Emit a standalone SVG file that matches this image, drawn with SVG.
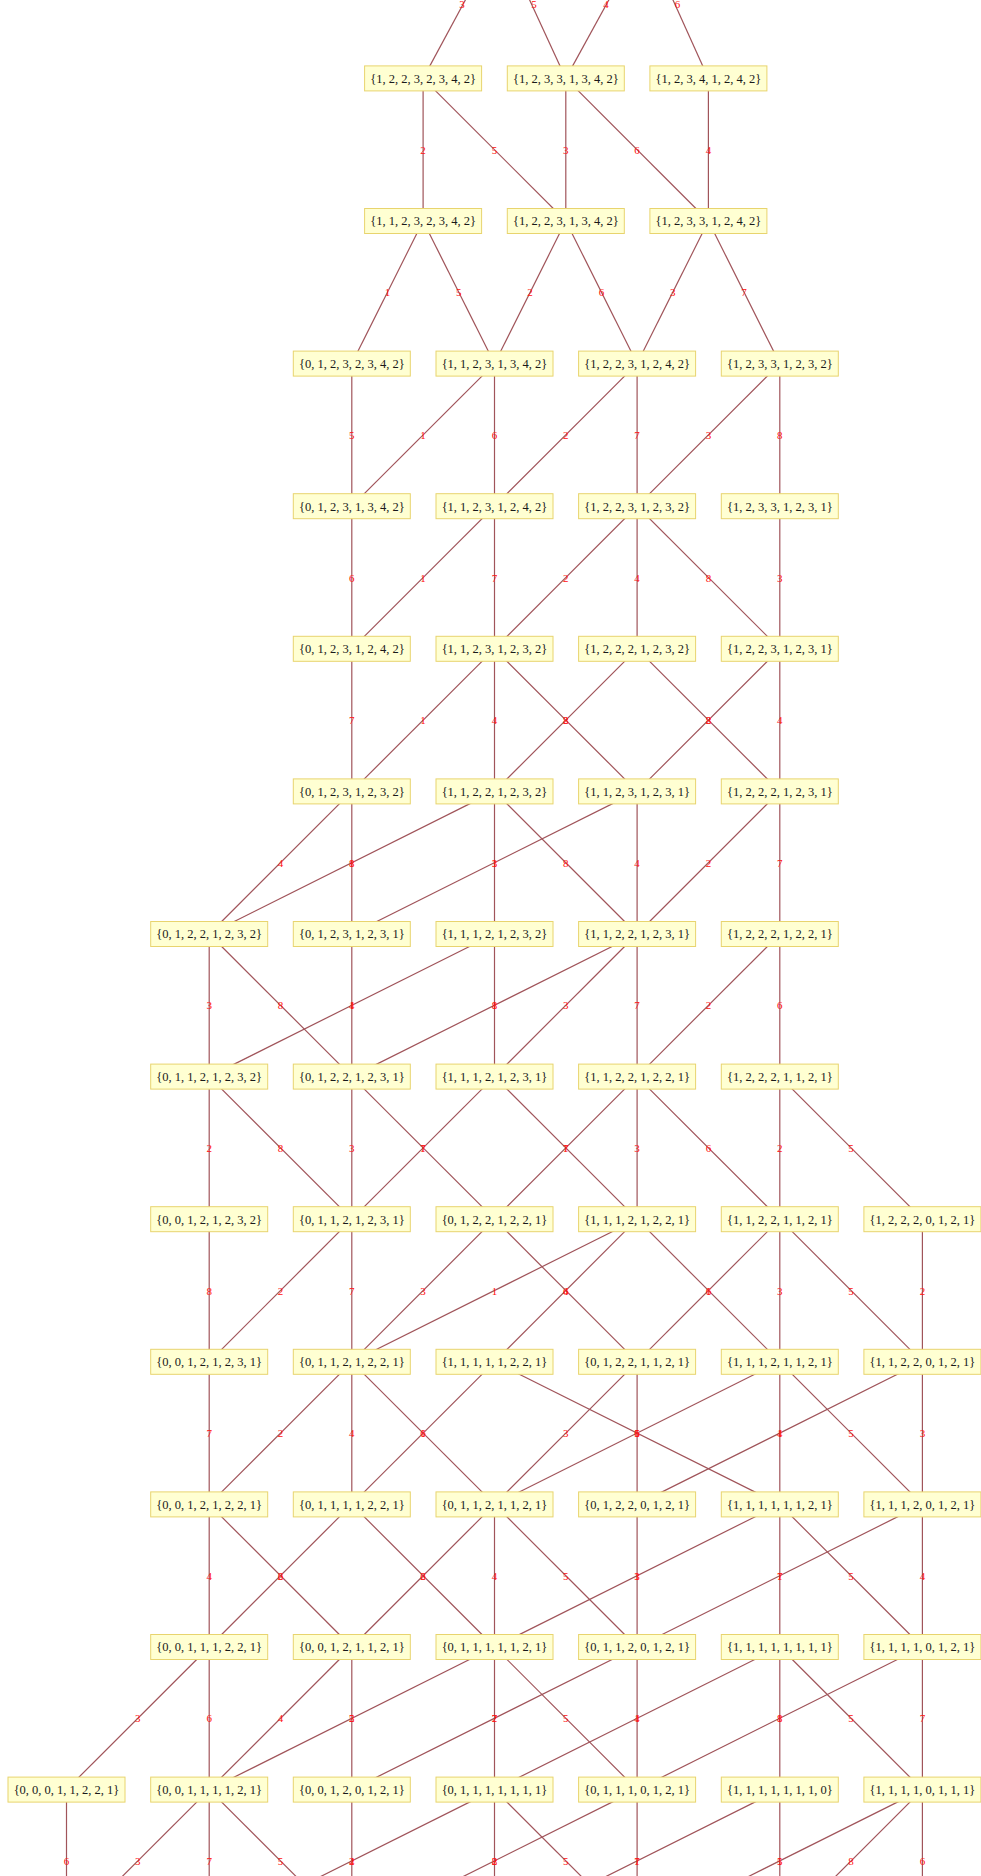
<svg xmlns="http://www.w3.org/2000/svg" width="981" height="1876" viewBox="0 0 981 1876">
<style>
.e line{stroke:#a0545a;stroke-width:1.2;fill:none}
.l text{fill:#ff1010;font-family:"Liberation Serif",serif;font-size:11px;text-anchor:middle}
.n rect{fill:#ffffd2;stroke:#e8d46e;stroke-width:1}
.n text{fill:#1a1a1a;font-family:"Liberation Serif",serif;font-size:12.5px;text-anchor:middle}
</style>
<rect width="981" height="1876" fill="#ffffff"/>
<g id="connectors">
<g class="e">
<line x1="500" y1="-64.2" x2="423.1" y2="78.4"/>
<line x1="500" y1="-64.2" x2="565.8" y2="78.4"/>
<line x1="644" y1="-64.2" x2="565.8" y2="78.4"/>
<line x1="644" y1="-64.2" x2="708.4" y2="78.4"/>

<line x1="423.1" y1="78.4" x2="423.1" y2="221"/>
<line x1="423.1" y1="78.4" x2="565.8" y2="221"/>
<line x1="565.8" y1="78.4" x2="565.8" y2="221"/>
<line x1="565.8" y1="78.4" x2="708.4" y2="221"/>
<line x1="708.4" y1="78.4" x2="708.4" y2="221"/>

<line x1="423.1" y1="221" x2="351.8" y2="363.6"/>
<line x1="423.1" y1="221" x2="494.5" y2="363.6"/>
<line x1="565.8" y1="221" x2="494.5" y2="363.6"/>
<line x1="565.8" y1="221" x2="637.1" y2="363.6"/>
<line x1="708.4" y1="221" x2="637.1" y2="363.6"/>
<line x1="708.4" y1="221" x2="779.8" y2="363.6"/>

<line x1="351.8" y1="363.6" x2="351.8" y2="506.2"/>
<line x1="494.5" y1="363.6" x2="351.8" y2="506.2"/>
<line x1="494.5" y1="363.6" x2="494.5" y2="506.2"/>
<line x1="637.1" y1="363.6" x2="494.5" y2="506.2"/>
<line x1="637.1" y1="363.6" x2="637.1" y2="506.2"/>
<line x1="779.8" y1="363.6" x2="637.1" y2="506.2"/>
<line x1="779.8" y1="363.6" x2="779.8" y2="506.2"/>

<line x1="351.8" y1="506.2" x2="351.8" y2="648.8"/>
<line x1="494.5" y1="506.2" x2="351.8" y2="648.8"/>
<line x1="494.5" y1="506.2" x2="494.5" y2="648.8"/>
<line x1="637.1" y1="506.2" x2="494.5" y2="648.8"/>
<line x1="637.1" y1="506.2" x2="637.1" y2="648.8"/>
<line x1="637.1" y1="506.2" x2="779.8" y2="648.8"/>
<line x1="779.8" y1="506.2" x2="779.8" y2="648.8"/>

<line x1="351.8" y1="648.8" x2="351.8" y2="791.4"/>
<line x1="494.5" y1="648.8" x2="351.8" y2="791.4"/>
<line x1="494.5" y1="648.8" x2="494.5" y2="791.4"/>
<line x1="494.5" y1="648.8" x2="637.1" y2="791.4"/>
<line x1="637.1" y1="648.8" x2="494.5" y2="791.4"/>
<line x1="637.1" y1="648.8" x2="779.8" y2="791.4"/>
<line x1="779.8" y1="648.8" x2="637.1" y2="791.4"/>
<line x1="779.8" y1="648.8" x2="779.8" y2="791.4"/>

<line x1="351.8" y1="791.4" x2="209.2" y2="934"/>
<line x1="351.8" y1="791.4" x2="351.8" y2="934"/>
<line x1="494.5" y1="791.4" x2="209.2" y2="934"/>
<line x1="494.5" y1="791.4" x2="494.5" y2="934"/>
<line x1="494.5" y1="791.4" x2="637.1" y2="934"/>
<line x1="637.1" y1="791.4" x2="351.8" y2="934"/>
<line x1="637.1" y1="791.4" x2="637.1" y2="934"/>
<line x1="779.8" y1="791.4" x2="637.1" y2="934"/>
<line x1="779.8" y1="791.4" x2="779.8" y2="934"/>

<line x1="209.2" y1="934" x2="209.2" y2="1076.6"/>
<line x1="209.2" y1="934" x2="351.8" y2="1076.6"/>
<line x1="351.8" y1="934" x2="351.8" y2="1076.6"/>
<line x1="494.5" y1="934" x2="209.2" y2="1076.6"/>
<line x1="494.5" y1="934" x2="494.5" y2="1076.6"/>
<line x1="637.1" y1="934" x2="351.8" y2="1076.6"/>
<line x1="637.1" y1="934" x2="494.5" y2="1076.6"/>
<line x1="637.1" y1="934" x2="637.1" y2="1076.6"/>
<line x1="779.8" y1="934" x2="637.1" y2="1076.6"/>
<line x1="779.8" y1="934" x2="779.8" y2="1076.6"/>

<line x1="209.2" y1="1076.6" x2="209.2" y2="1219.2"/>
<line x1="209.2" y1="1076.6" x2="351.8" y2="1219.2"/>
<line x1="351.8" y1="1076.6" x2="351.8" y2="1219.2"/>
<line x1="351.8" y1="1076.6" x2="494.5" y2="1219.2"/>
<line x1="494.5" y1="1076.6" x2="351.8" y2="1219.2"/>
<line x1="494.5" y1="1076.6" x2="637.1" y2="1219.2"/>
<line x1="637.1" y1="1076.6" x2="494.5" y2="1219.2"/>
<line x1="637.1" y1="1076.6" x2="637.1" y2="1219.2"/>
<line x1="637.1" y1="1076.6" x2="779.8" y2="1219.2"/>
<line x1="779.8" y1="1076.6" x2="779.8" y2="1219.2"/>
<line x1="779.8" y1="1076.6" x2="922.4" y2="1219.2"/>

<line x1="209.2" y1="1219.2" x2="209.2" y2="1361.8"/>
<line x1="351.8" y1="1219.2" x2="209.2" y2="1361.8"/>
<line x1="351.8" y1="1219.2" x2="351.8" y2="1361.8"/>
<line x1="494.5" y1="1219.2" x2="351.8" y2="1361.8"/>
<line x1="494.5" y1="1219.2" x2="637.1" y2="1361.8"/>
<line x1="637.1" y1="1219.2" x2="351.8" y2="1361.8"/>
<line x1="637.1" y1="1219.2" x2="494.5" y2="1361.8"/>
<line x1="637.1" y1="1219.2" x2="779.8" y2="1361.8"/>
<line x1="779.8" y1="1219.2" x2="637.1" y2="1361.8"/>
<line x1="779.8" y1="1219.2" x2="779.8" y2="1361.8"/>
<line x1="779.8" y1="1219.2" x2="922.4" y2="1361.8"/>
<line x1="922.4" y1="1219.2" x2="922.4" y2="1361.8"/>

<line x1="209.2" y1="1361.8" x2="209.2" y2="1504.4"/>
<line x1="351.8" y1="1361.8" x2="209.2" y2="1504.4"/>
<line x1="351.8" y1="1361.8" x2="351.8" y2="1504.4"/>
<line x1="351.8" y1="1361.8" x2="494.5" y2="1504.4"/>
<line x1="494.5" y1="1361.8" x2="351.8" y2="1504.4"/>
<line x1="494.5" y1="1361.8" x2="779.8" y2="1504.4"/>
<line x1="637.1" y1="1361.8" x2="494.5" y2="1504.4"/>
<line x1="637.1" y1="1361.8" x2="637.1" y2="1504.4"/>
<line x1="779.8" y1="1361.8" x2="494.5" y2="1504.4"/>
<line x1="779.8" y1="1361.8" x2="779.8" y2="1504.4"/>
<line x1="779.8" y1="1361.8" x2="922.4" y2="1504.4"/>
<line x1="922.4" y1="1361.8" x2="637.1" y2="1504.4"/>
<line x1="922.4" y1="1361.8" x2="922.4" y2="1504.4"/>

<line x1="209.2" y1="1504.4" x2="209.2" y2="1647"/>
<line x1="209.2" y1="1504.4" x2="351.8" y2="1647"/>
<line x1="351.8" y1="1504.4" x2="209.2" y2="1647"/>
<line x1="351.8" y1="1504.4" x2="494.5" y2="1647"/>
<line x1="494.5" y1="1504.4" x2="351.8" y2="1647"/>
<line x1="494.5" y1="1504.4" x2="494.5" y2="1647"/>
<line x1="494.5" y1="1504.4" x2="637.1" y2="1647"/>
<line x1="637.1" y1="1504.4" x2="637.1" y2="1647"/>
<line x1="779.8" y1="1504.4" x2="494.5" y2="1647"/>
<line x1="779.8" y1="1504.4" x2="779.8" y2="1647"/>
<line x1="779.8" y1="1504.4" x2="922.4" y2="1647"/>
<line x1="922.4" y1="1504.4" x2="637.1" y2="1647"/>
<line x1="922.4" y1="1504.4" x2="922.4" y2="1647"/>

<line x1="209.2" y1="1647" x2="66.5" y2="1789.6"/>
<line x1="209.2" y1="1647" x2="209.2" y2="1789.6"/>
<line x1="351.8" y1="1647" x2="209.2" y2="1789.6"/>
<line x1="351.8" y1="1647" x2="351.8" y2="1789.6"/>
<line x1="494.5" y1="1647" x2="209.2" y2="1789.6"/>
<line x1="494.5" y1="1647" x2="494.5" y2="1789.6"/>
<line x1="494.5" y1="1647" x2="637.1" y2="1789.6"/>
<line x1="637.1" y1="1647" x2="351.8" y2="1789.6"/>
<line x1="637.1" y1="1647" x2="637.1" y2="1789.6"/>
<line x1="779.8" y1="1647" x2="494.5" y2="1789.6"/>
<line x1="779.8" y1="1647" x2="779.8" y2="1789.6"/>
<line x1="779.8" y1="1647" x2="922.4" y2="1789.6"/>
<line x1="922.4" y1="1647" x2="637.1" y2="1789.6"/>
<line x1="922.4" y1="1647" x2="922.4" y2="1789.6"/>

<line x1="66.5" y1="1789.6" x2="66.5" y2="1932.2"/>
<line x1="209.2" y1="1789.6" x2="66.5" y2="1932.2"/>
<line x1="209.2" y1="1789.6" x2="209.2" y2="1932.2"/>
<line x1="209.2" y1="1789.6" x2="351.8" y2="1932.2"/>
<line x1="351.8" y1="1789.6" x2="351.8" y2="1932.2"/>
<line x1="494.5" y1="1789.6" x2="209.2" y2="1932.2"/>
<line x1="494.5" y1="1789.6" x2="494.5" y2="1932.2"/>
<line x1="494.5" y1="1789.6" x2="637.1" y2="1932.2"/>
<line x1="637.1" y1="1789.6" x2="351.8" y2="1932.2"/>
<line x1="637.1" y1="1789.6" x2="637.1" y2="1932.2"/>
<line x1="779.8" y1="1789.6" x2="494.5" y2="1932.2"/>
<line x1="779.8" y1="1789.6" x2="779.8" y2="1932.2"/>
<line x1="922.4" y1="1789.6" x2="637.1" y2="1932.2"/>
<line x1="922.4" y1="1789.6" x2="779.8" y2="1932.2"/>
<line x1="922.4" y1="1789.6" x2="922.4" y2="1932.2"/>
</g>
<g class="l">
<text x="462" y="8">3</text>
<text x="534" y="8">5</text>
<text x="606" y="8">4</text>
<text x="677.5" y="8">6</text>

<text x="423.1" y="153.8">2</text>
<text x="494.5" y="153.8">5</text>
<text x="565.8" y="153.8">3</text>
<text x="637.1" y="153.8">6</text>
<text x="708.4" y="153.8">4</text>

<text x="387.5" y="296.4">1</text>
<text x="458.8" y="296.4">5</text>
<text x="530.1" y="296.4">2</text>
<text x="601.5" y="296.4">6</text>
<text x="672.8" y="296.4">3</text>
<text x="744.1" y="296.4">7</text>

<text x="351.8" y="439">5</text>
<text x="423.1" y="439">1</text>
<text x="494.5" y="439">6</text>
<text x="565.8" y="439">2</text>
<text x="637.1" y="439">7</text>
<text x="708.4" y="439">3</text>
<text x="779.8" y="439">8</text>

<text x="351.8" y="581.6">6</text>
<text x="423.1" y="581.6">1</text>
<text x="494.5" y="581.6">7</text>
<text x="565.8" y="581.6">2</text>
<text x="637.1" y="581.6">4</text>
<text x="708.4" y="581.6">8</text>
<text x="779.8" y="581.6">3</text>

<text x="351.8" y="724.2">7</text>
<text x="423.1" y="724.2">1</text>
<text x="494.5" y="724.2">4</text>
<text x="565.8" y="724.2">8</text>
<text x="565.8" y="724.2">2</text>
<text x="708.4" y="724.2">8</text>
<text x="708.4" y="724.2">2</text>
<text x="779.8" y="724.2">4</text>

<text x="280.5" y="866.8">4</text>
<text x="351.8" y="866.8">8</text>
<text x="351.8" y="866.8">1</text>
<text x="494.5" y="866.8">3</text>
<text x="494.5" y="866.8">1</text>
<text x="565.8" y="866.8">8</text>
<text x="637.1" y="866.8">4</text>
<text x="708.4" y="866.8">2</text>
<text x="779.8" y="866.8">7</text>

<text x="209.2" y="1009.4">3</text>
<text x="280.5" y="1009.4">8</text>
<text x="351.8" y="1009.4">4</text>
<text x="351.8" y="1009.4">1</text>
<text x="494.5" y="1009.4">8</text>
<text x="494.5" y="1009.4">1</text>
<text x="565.8" y="1009.4">3</text>
<text x="637.1" y="1009.4">7</text>
<text x="708.4" y="1009.4">2</text>
<text x="779.8" y="1009.4">6</text>

<text x="209.2" y="1152">2</text>
<text x="280.5" y="1152">8</text>
<text x="351.8" y="1152">3</text>
<text x="423.1" y="1152">7</text>
<text x="423.1" y="1152">1</text>
<text x="565.8" y="1152">7</text>
<text x="565.8" y="1152">1</text>
<text x="637.1" y="1152">3</text>
<text x="708.4" y="1152">6</text>
<text x="779.8" y="1152">2</text>
<text x="851.1" y="1152">5</text>

<text x="209.2" y="1294.6">8</text>
<text x="280.5" y="1294.6">2</text>
<text x="351.8" y="1294.6">7</text>
<text x="423.1" y="1294.6">3</text>
<text x="494.5" y="1294.6">1</text>
<text x="565.8" y="1294.6">6</text>
<text x="565.8" y="1294.6">4</text>
<text x="708.4" y="1294.6">6</text>
<text x="708.4" y="1294.6">1</text>
<text x="779.8" y="1294.6">3</text>
<text x="851.1" y="1294.6">5</text>
<text x="922.4" y="1294.6">2</text>

<text x="209.2" y="1437.2">7</text>
<text x="280.5" y="1437.2">2</text>
<text x="351.8" y="1437.2">4</text>
<text x="423.1" y="1437.2">6</text>
<text x="423.1" y="1437.2">1</text>
<text x="565.8" y="1437.2">3</text>
<text x="637.1" y="1437.2">6</text>
<text x="637.1" y="1437.2">1</text>
<text x="637.1" y="1437.2">5</text>
<text x="779.8" y="1437.2">4</text>
<text x="779.8" y="1437.2">1</text>
<text x="851.1" y="1437.2">5</text>
<text x="922.4" y="1437.2">3</text>

<text x="209.2" y="1579.8">4</text>
<text x="280.5" y="1579.8">6</text>
<text x="280.5" y="1579.8">2</text>
<text x="423.1" y="1579.8">6</text>
<text x="423.1" y="1579.8">2</text>
<text x="494.5" y="1579.8">4</text>
<text x="565.8" y="1579.8">5</text>
<text x="637.1" y="1579.8">3</text>
<text x="637.1" y="1579.8">1</text>
<text x="779.8" y="1579.8">7</text>
<text x="779.8" y="1579.8">1</text>
<text x="851.1" y="1579.8">5</text>
<text x="922.4" y="1579.8">4</text>

<text x="137.8" y="1722.4">3</text>
<text x="209.2" y="1722.4">6</text>
<text x="280.5" y="1722.4">4</text>
<text x="351.8" y="1722.4">5</text>
<text x="351.8" y="1722.4">2</text>
<text x="494.5" y="1722.4">7</text>
<text x="494.5" y="1722.4">2</text>
<text x="565.8" y="1722.4">5</text>
<text x="637.1" y="1722.4">4</text>
<text x="637.1" y="1722.4">1</text>
<text x="779.8" y="1722.4">8</text>
<text x="779.8" y="1722.4">1</text>
<text x="851.1" y="1722.4">5</text>
<text x="922.4" y="1722.4">7</text>

<text x="66.5" y="1865">6</text>
<text x="137.8" y="1865">3</text>
<text x="209.2" y="1865">7</text>
<text x="280.5" y="1865">5</text>
<text x="351.8" y="1865">4</text>
<text x="351.8" y="1865">2</text>
<text x="494.5" y="1865">8</text>
<text x="494.5" y="1865">2</text>
<text x="565.8" y="1865">5</text>
<text x="637.1" y="1865">7</text>
<text x="637.1" y="1865">1</text>
<text x="779.8" y="1865">5</text>
<text x="779.8" y="1865">1</text>
<text x="851.1" y="1865">8</text>
<text x="922.4" y="1865">6</text>
</g>
</g>
<g id="nodes">
<g class="n" id="v12232342"><rect x="364.6" y="65.9" width="117" height="25"/><text x="423.1" y="82.7">{1, 2, 2, 3, 2, 3, 4, 2}</text></g>
<g class="n" id="v12331342"><rect x="507.3" y="65.9" width="117" height="25"/><text x="565.8" y="82.7">{1, 2, 3, 3, 1, 3, 4, 2}</text></g>
<g class="n" id="v12341242"><rect x="649.9" y="65.9" width="117" height="25"/><text x="708.4" y="82.7">{1, 2, 3, 4, 1, 2, 4, 2}</text></g>

<g class="n" id="v11232342"><rect x="364.6" y="208.5" width="117" height="25"/><text x="423.1" y="225.3">{1, 1, 2, 3, 2, 3, 4, 2}</text></g>
<g class="n" id="v12231342"><rect x="507.3" y="208.5" width="117" height="25"/><text x="565.8" y="225.3">{1, 2, 2, 3, 1, 3, 4, 2}</text></g>
<g class="n" id="v12331242"><rect x="649.9" y="208.5" width="117" height="25"/><text x="708.4" y="225.3">{1, 2, 3, 3, 1, 2, 4, 2}</text></g>

<g class="n" id="v01232342"><rect x="293.3" y="351.1" width="117" height="25"/><text x="351.8" y="367.9">{0, 1, 2, 3, 2, 3, 4, 2}</text></g>
<g class="n" id="v11231342"><rect x="436" y="351.1" width="117" height="25"/><text x="494.5" y="367.9">{1, 1, 2, 3, 1, 3, 4, 2}</text></g>
<g class="n" id="v12231242"><rect x="578.6" y="351.1" width="117" height="25"/><text x="637.1" y="367.9">{1, 2, 2, 3, 1, 2, 4, 2}</text></g>
<g class="n" id="v12331232"><rect x="721.3" y="351.1" width="117" height="25"/><text x="779.8" y="367.9">{1, 2, 3, 3, 1, 2, 3, 2}</text></g>

<g class="n" id="v01231342"><rect x="293.3" y="493.7" width="117" height="25"/><text x="351.8" y="510.5">{0, 1, 2, 3, 1, 3, 4, 2}</text></g>
<g class="n" id="v11231242"><rect x="436" y="493.7" width="117" height="25"/><text x="494.5" y="510.5">{1, 1, 2, 3, 1, 2, 4, 2}</text></g>
<g class="n" id="v12231232"><rect x="578.6" y="493.7" width="117" height="25"/><text x="637.1" y="510.5">{1, 2, 2, 3, 1, 2, 3, 2}</text></g>
<g class="n" id="v12331231"><rect x="721.3" y="493.7" width="117" height="25"/><text x="779.8" y="510.5">{1, 2, 3, 3, 1, 2, 3, 1}</text></g>

<g class="n" id="v01231242"><rect x="293.3" y="636.3" width="117" height="25"/><text x="351.8" y="653.1">{0, 1, 2, 3, 1, 2, 4, 2}</text></g>
<g class="n" id="v11231232"><rect x="436" y="636.3" width="117" height="25"/><text x="494.5" y="653.1">{1, 1, 2, 3, 1, 2, 3, 2}</text></g>
<g class="n" id="v12221232"><rect x="578.6" y="636.3" width="117" height="25"/><text x="637.1" y="653.1">{1, 2, 2, 2, 1, 2, 3, 2}</text></g>
<g class="n" id="v12231231"><rect x="721.3" y="636.3" width="117" height="25"/><text x="779.8" y="653.1">{1, 2, 2, 3, 1, 2, 3, 1}</text></g>

<g class="n" id="v01231232"><rect x="293.3" y="778.9" width="117" height="25"/><text x="351.8" y="795.7">{0, 1, 2, 3, 1, 2, 3, 2}</text></g>
<g class="n" id="v11221232"><rect x="436" y="778.9" width="117" height="25"/><text x="494.5" y="795.7">{1, 1, 2, 2, 1, 2, 3, 2}</text></g>
<g class="n" id="v11231231"><rect x="578.6" y="778.9" width="117" height="25"/><text x="637.1" y="795.7">{1, 1, 2, 3, 1, 2, 3, 1}</text></g>
<g class="n" id="v12221231"><rect x="721.3" y="778.9" width="117" height="25"/><text x="779.8" y="795.7">{1, 2, 2, 2, 1, 2, 3, 1}</text></g>

<g class="n" id="v01221232"><rect x="150.7" y="921.5" width="117" height="25"/><text x="209.2" y="938.3">{0, 1, 2, 2, 1, 2, 3, 2}</text></g>
<g class="n" id="v01231231"><rect x="293.3" y="921.5" width="117" height="25"/><text x="351.8" y="938.3">{0, 1, 2, 3, 1, 2, 3, 1}</text></g>
<g class="n" id="v11121232"><rect x="436" y="921.5" width="117" height="25"/><text x="494.5" y="938.3">{1, 1, 1, 2, 1, 2, 3, 2}</text></g>
<g class="n" id="v11221231"><rect x="578.6" y="921.5" width="117" height="25"/><text x="637.1" y="938.3">{1, 1, 2, 2, 1, 2, 3, 1}</text></g>
<g class="n" id="v12221221"><rect x="721.3" y="921.5" width="117" height="25"/><text x="779.8" y="938.3">{1, 2, 2, 2, 1, 2, 2, 1}</text></g>

<g class="n" id="v01121232"><rect x="150.7" y="1064.1" width="117" height="25"/><text x="209.2" y="1080.9">{0, 1, 1, 2, 1, 2, 3, 2}</text></g>
<g class="n" id="v01221231"><rect x="293.3" y="1064.1" width="117" height="25"/><text x="351.8" y="1080.9">{0, 1, 2, 2, 1, 2, 3, 1}</text></g>
<g class="n" id="v11121231"><rect x="436" y="1064.1" width="117" height="25"/><text x="494.5" y="1080.9">{1, 1, 1, 2, 1, 2, 3, 1}</text></g>
<g class="n" id="v11221221"><rect x="578.6" y="1064.1" width="117" height="25"/><text x="637.1" y="1080.9">{1, 1, 2, 2, 1, 2, 2, 1}</text></g>
<g class="n" id="v12221121"><rect x="721.3" y="1064.1" width="117" height="25"/><text x="779.8" y="1080.9">{1, 2, 2, 2, 1, 1, 2, 1}</text></g>

<g class="n" id="v00121232"><rect x="150.7" y="1206.7" width="117" height="25"/><text x="209.2" y="1223.5">{0, 0, 1, 2, 1, 2, 3, 2}</text></g>
<g class="n" id="v01121231"><rect x="293.3" y="1206.7" width="117" height="25"/><text x="351.8" y="1223.5">{0, 1, 1, 2, 1, 2, 3, 1}</text></g>
<g class="n" id="v01221221"><rect x="436" y="1206.7" width="117" height="25"/><text x="494.5" y="1223.5">{0, 1, 2, 2, 1, 2, 2, 1}</text></g>
<g class="n" id="v11121221"><rect x="578.6" y="1206.7" width="117" height="25"/><text x="637.1" y="1223.5">{1, 1, 1, 2, 1, 2, 2, 1}</text></g>
<g class="n" id="v11221121"><rect x="721.3" y="1206.7" width="117" height="25"/><text x="779.8" y="1223.5">{1, 1, 2, 2, 1, 1, 2, 1}</text></g>
<g class="n" id="v12220121"><rect x="863.9" y="1206.7" width="117" height="25"/><text x="922.4" y="1223.5">{1, 2, 2, 2, 0, 1, 2, 1}</text></g>

<g class="n" id="v00121231"><rect x="150.7" y="1349.3" width="117" height="25"/><text x="209.2" y="1366.1">{0, 0, 1, 2, 1, 2, 3, 1}</text></g>
<g class="n" id="v01121221"><rect x="293.3" y="1349.3" width="117" height="25"/><text x="351.8" y="1366.1">{0, 1, 1, 2, 1, 2, 2, 1}</text></g>
<g class="n" id="v11111221"><rect x="436" y="1349.3" width="117" height="25"/><text x="494.5" y="1366.1">{1, 1, 1, 1, 1, 2, 2, 1}</text></g>
<g class="n" id="v01221121"><rect x="578.6" y="1349.3" width="117" height="25"/><text x="637.1" y="1366.1">{0, 1, 2, 2, 1, 1, 2, 1}</text></g>
<g class="n" id="v11121121"><rect x="721.3" y="1349.3" width="117" height="25"/><text x="779.8" y="1366.1">{1, 1, 1, 2, 1, 1, 2, 1}</text></g>
<g class="n" id="v11220121"><rect x="863.9" y="1349.3" width="117" height="25"/><text x="922.4" y="1366.1">{1, 1, 2, 2, 0, 1, 2, 1}</text></g>

<g class="n" id="v00121221"><rect x="150.7" y="1491.9" width="117" height="25"/><text x="209.2" y="1508.7">{0, 0, 1, 2, 1, 2, 2, 1}</text></g>
<g class="n" id="v01111221"><rect x="293.3" y="1491.9" width="117" height="25"/><text x="351.8" y="1508.7">{0, 1, 1, 1, 1, 2, 2, 1}</text></g>
<g class="n" id="v01121121"><rect x="436" y="1491.9" width="117" height="25"/><text x="494.5" y="1508.7">{0, 1, 1, 2, 1, 1, 2, 1}</text></g>
<g class="n" id="v01220121"><rect x="578.6" y="1491.9" width="117" height="25"/><text x="637.1" y="1508.7">{0, 1, 2, 2, 0, 1, 2, 1}</text></g>
<g class="n" id="v11111121"><rect x="721.3" y="1491.9" width="117" height="25"/><text x="779.8" y="1508.7">{1, 1, 1, 1, 1, 1, 2, 1}</text></g>
<g class="n" id="v11120121"><rect x="863.9" y="1491.9" width="117" height="25"/><text x="922.4" y="1508.7">{1, 1, 1, 2, 0, 1, 2, 1}</text></g>

<g class="n" id="v00111221"><rect x="150.7" y="1634.5" width="117" height="25"/><text x="209.2" y="1651.3">{0, 0, 1, 1, 1, 2, 2, 1}</text></g>
<g class="n" id="v00121121"><rect x="293.3" y="1634.5" width="117" height="25"/><text x="351.8" y="1651.3">{0, 0, 1, 2, 1, 1, 2, 1}</text></g>
<g class="n" id="v01111121"><rect x="436" y="1634.5" width="117" height="25"/><text x="494.5" y="1651.3">{0, 1, 1, 1, 1, 1, 2, 1}</text></g>
<g class="n" id="v01120121"><rect x="578.6" y="1634.5" width="117" height="25"/><text x="637.1" y="1651.3">{0, 1, 1, 2, 0, 1, 2, 1}</text></g>
<g class="n" id="v11111111"><rect x="721.3" y="1634.5" width="117" height="25"/><text x="779.8" y="1651.3">{1, 1, 1, 1, 1, 1, 1, 1}</text></g>
<g class="n" id="v11110121"><rect x="863.9" y="1634.5" width="117" height="25"/><text x="922.4" y="1651.3">{1, 1, 1, 1, 0, 1, 2, 1}</text></g>

<g class="n" id="v00011221"><rect x="8" y="1777.1" width="117" height="25"/><text x="66.5" y="1793.9">{0, 0, 0, 1, 1, 2, 2, 1}</text></g>
<g class="n" id="v00111121"><rect x="150.7" y="1777.1" width="117" height="25"/><text x="209.2" y="1793.9">{0, 0, 1, 1, 1, 1, 2, 1}</text></g>
<g class="n" id="v00120121"><rect x="293.3" y="1777.1" width="117" height="25"/><text x="351.8" y="1793.9">{0, 0, 1, 2, 0, 1, 2, 1}</text></g>
<g class="n" id="v01111111"><rect x="436" y="1777.1" width="117" height="25"/><text x="494.5" y="1793.9">{0, 1, 1, 1, 1, 1, 1, 1}</text></g>
<g class="n" id="v01110121"><rect x="578.6" y="1777.1" width="117" height="25"/><text x="637.1" y="1793.9">{0, 1, 1, 1, 0, 1, 2, 1}</text></g>
<g class="n" id="v11111110"><rect x="721.3" y="1777.1" width="117" height="25"/><text x="779.8" y="1793.9">{1, 1, 1, 1, 1, 1, 1, 0}</text></g>
<g class="n" id="v11110111"><rect x="863.9" y="1777.1" width="117" height="25"/><text x="922.4" y="1793.9">{1, 1, 1, 1, 0, 1, 1, 1}</text></g>
</g>
</svg>
